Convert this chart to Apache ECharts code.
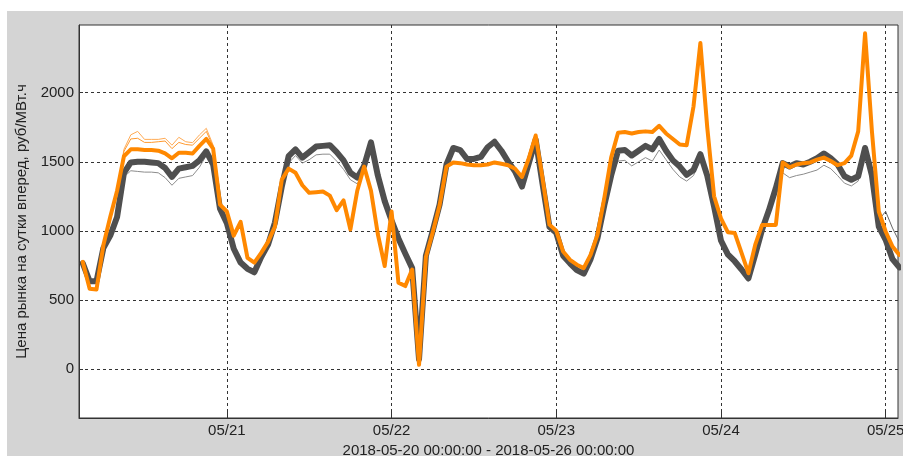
<!DOCTYPE html>
<html>
<head>
<meta charset="utf-8">
<script src="https://cdn.jsdelivr.net/npm/echarts@6/dist/echarts.min.js"></script>
<style>
  html, body { margin: 0; padding: 0; background: #fff; }
  #wrap { position: relative; width: 903px; height: 456px;
    background: linear-gradient(#d4d4d4, #d4d4d4) 7px 11px / 896px 445px no-repeat, #fff; }
  #chart { position: absolute; left: 0; top: 0; width: 903px; height: 456px; }
</style>
</head>
<body>
<div id="wrap"><div id="chart"></div></div>
<script>
// Hours counted from 2018-05-20 00:00; main series are hourly from hour 3 to hour 122.
const startHour = 3;
const xTickHours = [24, 48, 72, 96, 120];
const yTicks = [0, 500, 1000, 1500, 2000];

// Dense grey bundle (centre of the bundle)
const grayCore = [
  765, 635, 635, 875, 965, 1100, 1420, 1495, 1500, 1500, 1495, 1490, 1455, 1390, 1450, 1460, 1470, 1510, 1575, 1480, 1160,
  1055, 870, 770, 725, 700, 810, 900, 1060, 1320, 1540, 1590, 1530, 1570, 1610, 1615, 1620, 1570, 1510, 1420, 1385, 1470, 1640, 1400, 1215,
  1075, 945, 835, 730, 70, 820, 1000, 1190, 1480, 1600, 1585, 1520, 1520, 1535, 1605, 1645, 1580, 1500, 1430, 1320, 1490, 1660, 1340, 1030, 985,
  820, 765, 715, 690, 795, 945, 1185, 1400, 1580, 1585, 1545, 1580, 1615, 1590, 1665, 1580, 1510, 1465, 1405, 1440, 1555, 1400, 1175, 930,
  830, 780, 720, 655, 830, 1010, 1150, 1310, 1490, 1466, 1490, 1480, 1500, 1525, 1560, 1525, 1480, 1395, 1370, 1395, 1600, 1400, 1030, 935,
  795, 735
];

// Dense orange bundle (centre of the bundle)
const orangeCore = [
  775, 580, 575, 895, 1100, 1290, 1540, 1590, 1590, 1585, 1585, 1580, 1560, 1525, 1565, 1565, 1560, 1615, 1665, 1595, 1190,
  1140, 965, 1065, 805, 770, 840, 920, 1030, 1370, 1450, 1420, 1330, 1275, 1280, 1285, 1255, 1150, 1220, 1010, 1290, 1465, 1290, 975, 745,
  1140, 625, 600, 720, 30, 810, 990, 1185, 1465, 1495, 1490, 1480, 1475, 1475, 1480, 1495, 1485, 1475, 1450, 1390, 1525, 1690, 1380, 1045, 1000,
  850, 790, 755, 730, 826, 971, 1237, 1530, 1710, 1715, 1705, 1715, 1720, 1715, 1760, 1705, 1665, 1625, 1620, 1900, 2360, 1750, 1250, 1090,
  990, 985, 840, 693, 900, 1043, 1043, 1043, 1495, 1460, 1480, 1490, 1495, 1515, 1530, 1505, 1475, 1490, 1545, 1720, 2430, 1720, 1140, 995,
  886, 826
];

// Thin orange lines above the bundle on 05/20 (from hour 8)
const orangeTop0520Start = 8;
const orangeTop0520 = [1290, 1590, 1695, 1720, 1662, 1662, 1662, 1670, 1620, 1677, 1645, 1638, 1694, 1742, 1620, 1190];
const orangeTop0520b = [1290, 1575, 1665, 1670, 1640, 1640, 1645, 1650, 1595, 1640, 1625, 1620, 1670, 1720, 1610, 1190];

// Thin light-grey lines below the grey bundle
const grayLow0520Start = 8;
const grayLow0520 = [1100, 1390, 1435, 1430, 1425, 1425, 1420, 1385, 1330, 1380, 1390, 1400, 1460, 1545, 1470];
const grayLow0521Start = 32;
const grayLow0521 = [1300, 1490, 1545, 1490, 1515, 1550, 1555, 1555, 1505, 1445, 1370, 1340, 1430, 1620, 1395];
const grayLow0523Start = 80;
const grayLow0523 = [1390, 1505, 1510, 1470, 1500, 1530, 1505, 1585, 1515, 1445, 1390, 1360, 1400, 1520, 1395];
const grayLow0524Start = 104;
const grayLow0524 = [1300, 1420, 1385, 1400, 1410, 1425, 1440, 1475, 1450, 1400, 1345, 1325, 1360, 1580, 1400];
// Thin grey line above the bundle at the right end
const grayHiEndStart = 117;
const grayHiEnd = [1600, 1430, 1080, 1140, 1020, 920];

function pairs(start, vals) { return vals.map(function (v, i) { return [start + i, v]; }); }

const FONT = 'Liberation Sans, Arial, sans-serif';
const chart = echarts.init(document.getElementById('chart'), null, { renderer: 'canvas' });

function thin(name, data, color, z) {
  return { name: name, type: 'line', data: data, symbol: 'none', z: z, silent: true,
    lineStyle: { color: color, width: 1, join: 'round' } };
}
function thick(name, data, color, width, z) {
  return { name: name, type: 'line', data: data, symbol: 'none', z: z, silent: true,
    lineStyle: { color: color, width: width, join: 'round', cap: 'round' } };
}

chart.setOption({
  animation: false,
  backgroundColor: 'transparent',
  grid: { left: 79, top: 25, width: 819, height: 393, show: true, backgroundColor: '#fff',
    borderColor: '#333', borderWidth: 1, containLabel: false, outerBoundsMode: 'none' },
  xAxis: {
    type: 'value', min: 2.45, max: 121.8,
    name: '2018-05-20 00:00:00 - 2018-05-26 00:00:00', nameLocation: 'middle', nameGap: 25,
    nameTextStyle: { color: '#222', fontSize: 15, fontFamily: FONT },
    axisLine: { show: true, onZero: false, lineStyle: { color: '#333' } },
    axisTick: { show: true, inside: true, length: 7, customValues: xTickHours, lineStyle: { color: '#333' } },
    axisLabel: { customValues: xTickHours, margin: 5, color: '#222', fontSize: 15, fontFamily: FONT,
      formatter: function (h) { const d = 20 + Math.round(h / 24); return '05/' + (d < 10 ? '0' + d : d); } },
    splitLine: { show: true, lineStyle: { color: '#333', type: [3, 3], width: 1 } }
  },
  yAxis: {
    type: 'value', min: -355, max: 2490,
    name: 'Цена рынка на сутки вперед, руб/МВт.ч', nameLocation: 'middle', nameGap: 45,
    nameTextStyle: { color: '#222', fontSize: 15, fontFamily: FONT },
    axisLine: { show: true, onZero: false, lineStyle: { color: '#333' } },
    axisTick: { show: true, inside: true, length: 4, customValues: yTicks, lineStyle: { color: '#333' } },
    axisLabel: { customValues: yTicks, margin: 5, color: '#222', fontSize: 15, fontFamily: FONT,
      formatter: function (v) { return String(v); } },
    splitLine: { show: true, lineStyle: { color: '#333', type: [3, 3], width: 1 } }
  },
  series: [
    thick('grayCore', pairs(startHour, grayCore), '#4f4f4f', 6, 2),
    thin('grayLow0520', pairs(grayLow0520Start, grayLow0520), '#8c8c8c', 1),
    thin('grayLow0521', pairs(grayLow0521Start, grayLow0521), '#8c8c8c', 1),
    thin('grayLow0523', pairs(grayLow0523Start, grayLow0523), '#8c8c8c', 1),
    thin('grayLow0524', pairs(grayLow0524Start, grayLow0524), '#8c8c8c', 1),
    thin('grayHiEnd', pairs(grayHiEndStart, grayHiEnd), '#666666', 1),
    thin('orangeTop0520', pairs(orangeTop0520Start, orangeTop0520), '#ffab55', 3),
    thin('orangeTop0520b', pairs(orangeTop0520Start, orangeTop0520b), '#ff9a30', 3),
    thick('orangeCore', pairs(startHour, orangeCore), '#ff8800', 4, 4)
  ]
});
</script>
</body>
</html>
